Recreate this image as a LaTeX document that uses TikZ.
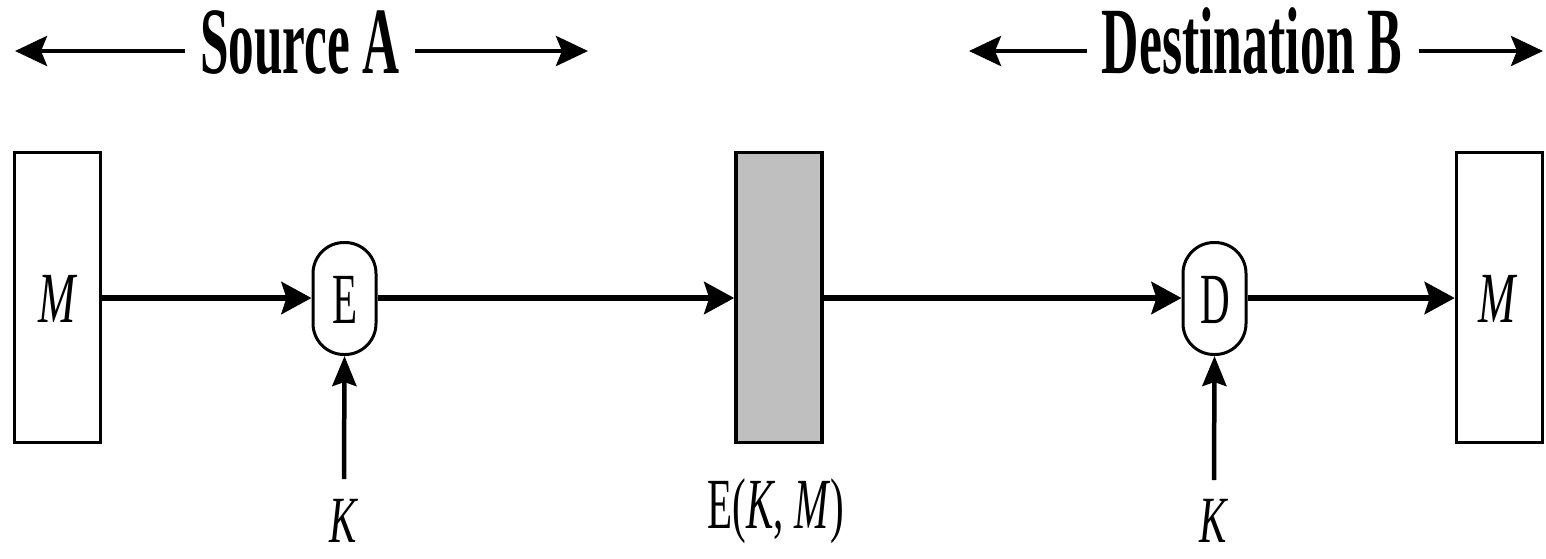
\documentclass[tikz,border=0pt]{standalone}
\usepackage{fontspec}
\setmainfont{Liberation Serif}
\usepackage{graphicx}
\usetikzlibrary{arrows.meta}
\newcommand{\narrow}[2]{\scalebox{#1}[1]{#2}}
\begin{document}
\begin{tikzpicture}[x=1pt,y=-1pt,
  msgbox/.style={draw=black, line width=3.5pt, minimum width=86pt, minimum height=290pt, inner sep=0pt},
  opnode/.style={draw=black, line width=3pt, rounded corners=31pt, minimum width=63pt, minimum height=112pt, inner sep=0pt, fill=white},
  lbl/.style={font=\fontsize{72}{72}\selectfont, inner sep=0pt, anchor=base},
  klbl/.style={font=\fontsize{66}{66}\selectfont, inner sep=0pt, anchor=base},
  hdr/.style={font=\fontsize{95}{95}\selectfont\bfseries, inner sep=0pt, anchor=base},
  flow/.style={line width=6pt, -{Stealth[length=30pt,width=32pt,inset=5pt]}},
  keyflow/.style={line width=4.5pt, -{Stealth[length=30pt,width=24pt,inset=4pt]}},
  hdrarrow/.style={line width=4.5pt, -{Stealth[length=32pt,width=30pt,inset=6pt]}}
]
\useasboundingbox (0,0) rectangle (1546,558);

% header labels
\node[hdr] (srcA) at (300,73) {\narrow{0.54}{Source A}};
\node[hdr] (dstB) at (1252,73) {\narrow{0.545}{Destination B}};
\coordinate (sAl0) at (185,51);
\coordinate (sAl1) at (15,51);
\coordinate (sAr0) at (415,51);
\coordinate (sAr1) at (588,51);
\coordinate (dBl0) at (1087,51);
\coordinate (dBl1) at (969,51);
\coordinate (dBr0) at (1419,51);
\coordinate (dBr1) at (1543,51);
\draw[hdrarrow] (sAl0) -- (sAl1);
\draw[hdrarrow] (sAr0) -- (sAr1);
\draw[hdrarrow] (dBl0) -- (dBl1);
\draw[hdrarrow] (dBr0) -- (dBr1);

% boxes and operation nodes
\node[msgbox] (mA) at (57.5,297.5) {};
\node[lbl] (mAt) at (58,322) {\narrow{0.62}{\textit{M}}};
\node[opnode] (E) at (344.5,298.5) {};
\node[lbl] (Et) at (345,323) {\narrow{0.57}{E}};
\node[msgbox, fill=black!25] (C) at (779,297.5) {};
\node[lbl] (Ct) at (776,528) {\narrow{0.57}{E(\textit{K}, \textit{M})}};
\node[opnode] (D) at (1214.5,298.5) {};
\node[lbl] (Dt) at (1215,323) {\narrow{0.57}{D}};
\node[msgbox] (mB) at (1499.5,297.5) {};
\node[lbl] (mBt) at (1498,322) {\narrow{0.62}{\textit{M}}};

% key inputs
\node[klbl] (K1) at (344,542) {\narrow{0.62}{\textit{K}}};
\node[klbl] (K2) at (1214,542) {\narrow{0.62}{\textit{K}}};
\coordinate (k1s) at (344,479);
\coordinate (k2s) at (1214,480);

% flows
\draw[flow] (mA.east |- 0,298) -- (E.west |- 0,298);
\draw[flow] (E.east |- 0,298) -- (C.west |- 0,298);
\draw[flow] (C.east |- 0,298) -- (D.west |- 0,298);
\draw[flow] (D.east |- 0,298) -- (mB.west |- 0,298);
\draw[keyflow] (k1s) -- (E.south);
\draw[keyflow] (k2s) -- (D.south);
\end{tikzpicture}
\end{document}
